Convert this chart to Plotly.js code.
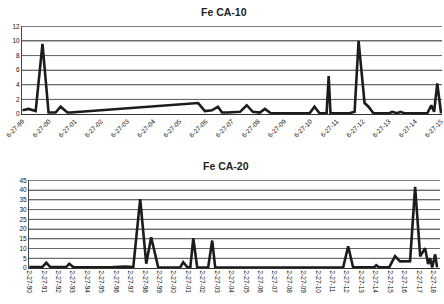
<!DOCTYPE html>
<html>
<head>
<meta charset="utf-8">
<script src="https://cdn.plot.ly/plotly-3.0.1.min.js"></script>
<style>
html,body{margin:0;padding:0;background:#fff;}
.c{width:444px;height:152px;}
</style>
</head>
<body>
<div id="top" class="c"></div>
<div id="bottom" class="c"></div>
<script>
// Fe CA-10 series
var ca10Dates = ['1999-06-27','1999-09-20','1999-12-28','2000-04-01','2000-06-25','2000-10-01','2000-12-10','2001-03-15','2001-04-28','2006-03-15','2006-06-17','2006-09-24','2006-12-16','2007-02-10','2007-05-05','2007-10-20','2008-01-22','2008-04-16','2008-07-23','2008-10-01','2008-12-24','2009-09-13','2010-06-17','2010-08-25','2010-11-03','2011-02-10','2011-03-11','2011-04-05','2011-12-24','2012-03-07','2012-05-01','2012-07-24','2012-09-17','2012-11-25','2013-07-05','2013-08-14','2013-10-23','2013-12-06','2014-01-30','2014-12-17','2015-02-10','2015-03-22','2015-05-05','2015-06-27'];
var ca10Values = [0.5,0.7,0.4,9.6,0.2,0.2,1.0,0.2,0.2,1.5,0.4,0.5,1.0,0.2,0.2,0.3,1.2,0.3,0.2,0.7,0.1,0.1,0.1,1.0,0.1,0.1,5.2,0.1,0.1,0.3,10.0,1.5,1.0,0.1,0.1,0.3,0.1,0.3,0.1,0.1,1.2,0.3,4.2,0.1];
var ca10TickVals = ['1999-06-27','2000-06-27','2001-06-27','2002-06-27','2003-06-27','2004-06-27','2005-06-27','2006-06-27','2007-06-27','2008-06-27','2009-06-27','2010-06-27','2011-06-27','2012-06-27','2013-06-27','2014-06-27','2015-06-27'];
var ca10TickText = ['6-27-99','6-27-00','6-27-01','6-27-02','6-27-03','6-27-04','6-27-05','6-27-06','6-27-07','6-27-08','6-27-09','6-27-10','6-27-11','6-27-12','6-27-13','6-27-14','6-27-15'];
var ca10YTicks = [0,2,4,6,8,10,12];

// Fe CA-20 series
var ca20Dates = ['1990-02-27','1991-01-22','1991-05-04','1991-08-14','1992-09-20','1992-12-05','1993-03-18','1995-10-08','1996-10-23','1997-05-15','1997-11-06','1998-04-08','1998-08-11','1999-02-06','2000-08-14','2000-10-30','2001-02-10','2001-04-28','2001-07-13','2001-10-20','2002-07-23','2002-11-03','2003-01-19','2004-12-02','2005-06-01','2011-12-02','2012-04-08','2012-08-11','2014-01-26','2014-03-18','2014-06-03','2015-02-10','2015-07-08','2015-11-13','2016-07-23','2016-11-28','2017-04-05','2017-08-08','2017-10-23','2017-12-14','2018-02-03','2018-04-20','2018-06-07'];
var ca20Values = [0.5,0.5,2.7,0.5,0.5,2.2,0.5,0.3,0.8,0.5,35.4,2.2,15.8,0.2,0.3,3.0,0.5,0.3,15.3,0.2,0.2,14.1,0.2,0.5,0.2,0.2,11.2,0.3,0.3,1.4,0.3,0.3,6.1,3.4,3.5,41.7,6.0,10.2,2.0,5.0,0.3,7.0,0.3];
var ca20Years = [1990,1991,1992,1993,1994,1995,1996,1997,1998,1999,2000,2001,2002,2003,2004,2005,2006,2007,2008,2009,2010,2011,2012,2013,2014,2015,2016,2017,2018];
var ca20TickText = ['2-27-90','2-27-91','2-27-92','2-27-93','2-27-94','2-27-95','2-27-96','2-27-97','2-27-98','2-27-99','2-27-00','2-27-01','2-27-02','2-27-03','2-27-04','2-27-05','2-27-06','2-27-07','2-27-08','2-27-09','2-27-10','2-27-11','2-27-12','2-27-13','2-27-14','2-27-15','2-27-16','2-27-17','2-27-18'];
var ca20TickVals = ca20Years.map(function(y){ return y + '-02-27'; });
var ca20YTicks = [0,5,10,15,20,25,30,35,40,45];

var lineStyle = {color:'#1c1c1c', width:2.6};
var tickFont = {family:'Liberation Sans, Arial, sans-serif', size:6.5, color:'#111'};
var gridCol = '#6a6a6a';
var cfg = {displayModeBar:false, staticPlot:true};

// horizontal grid lines placed through the y scale at each tick value
function gridShapes(vals){
  return vals.filter(function(v){ return v !== 0; }).map(function(v){
    return {type:'line', xref:'paper', x0:0, x1:1, yref:'y', y0:v, y1:v,
            line:{color:gridCol, width:1}, layer:'below'};
  });
}

function makeLayout(opts){
  return {
    width:444, height:152,
    margin: opts.margin,
    showlegend:false,
    font:{family:'Liberation Sans, Arial, sans-serif', color:'#222'},
    xaxis:{
      type:'date', range: opts.xrange,
      tickmode:'array', tickvals: opts.tickvals, ticktext: opts.ticktext,
      tickangle: opts.tickangle, tickfont: tickFont, ticklabeloverflow:'allow',
      showgrid:false, zeroline:false,
      showline:true, linecolor:'#333', linewidth:1.2,
      ticks:'', fixedrange:true
    },
    yaxis:{
      range: opts.yrange,
      tickmode:'array', tickvals: opts.yticks,
      tickfont: tickFont,
      showgrid:true, gridcolor:gridCol, gridwidth:1,
      zeroline:false, showline:true, linecolor:'#444', linewidth:1,
      ticks:'', fixedrange:true
    },
    shapes: gridShapes(opts.yticks),
    annotations:[
      {text:'<b>' + opts.title + '</b>', xref:'paper', yref:'paper', x:0.48, y:1, yshift:14, xanchor:'center', yanchor:'middle', showarrow:false, font:{size:10.5, color:'#222'}}
    ]
  };
}

Plotly.newPlot('top',
  [{x: ca10Dates, y: ca10Values, type:'scatter', mode:'lines', line: lineStyle, hoverinfo:'none'}],
  makeLayout({margin:{l:22, r:2, t:26, b:38}, xrange:['1999-06-20','2015-07-10'], tickvals:ca10TickVals, ticktext:ca10TickText, tickangle:-45, yrange:[0,12.05], yticks:ca10YTicks, title:'Fe CA-10'}),
  cfg);

Plotly.newPlot('bottom',
  [{x: ca20Dates, y: ca20Values, type:'scatter', mode:'lines', line: lineStyle, hoverinfo:'none'}],
  makeLayout({margin:{l:29, r:4, t:28, b:36}, xrange:['1990-02-20','2018-08-20'], tickvals:ca20TickVals, ticktext:ca20TickText, tickangle:90, yrange:[0,45.2], yticks:ca20YTicks, title:'Fe CA-20'}),
  cfg);
</script>
</body>
</html>
